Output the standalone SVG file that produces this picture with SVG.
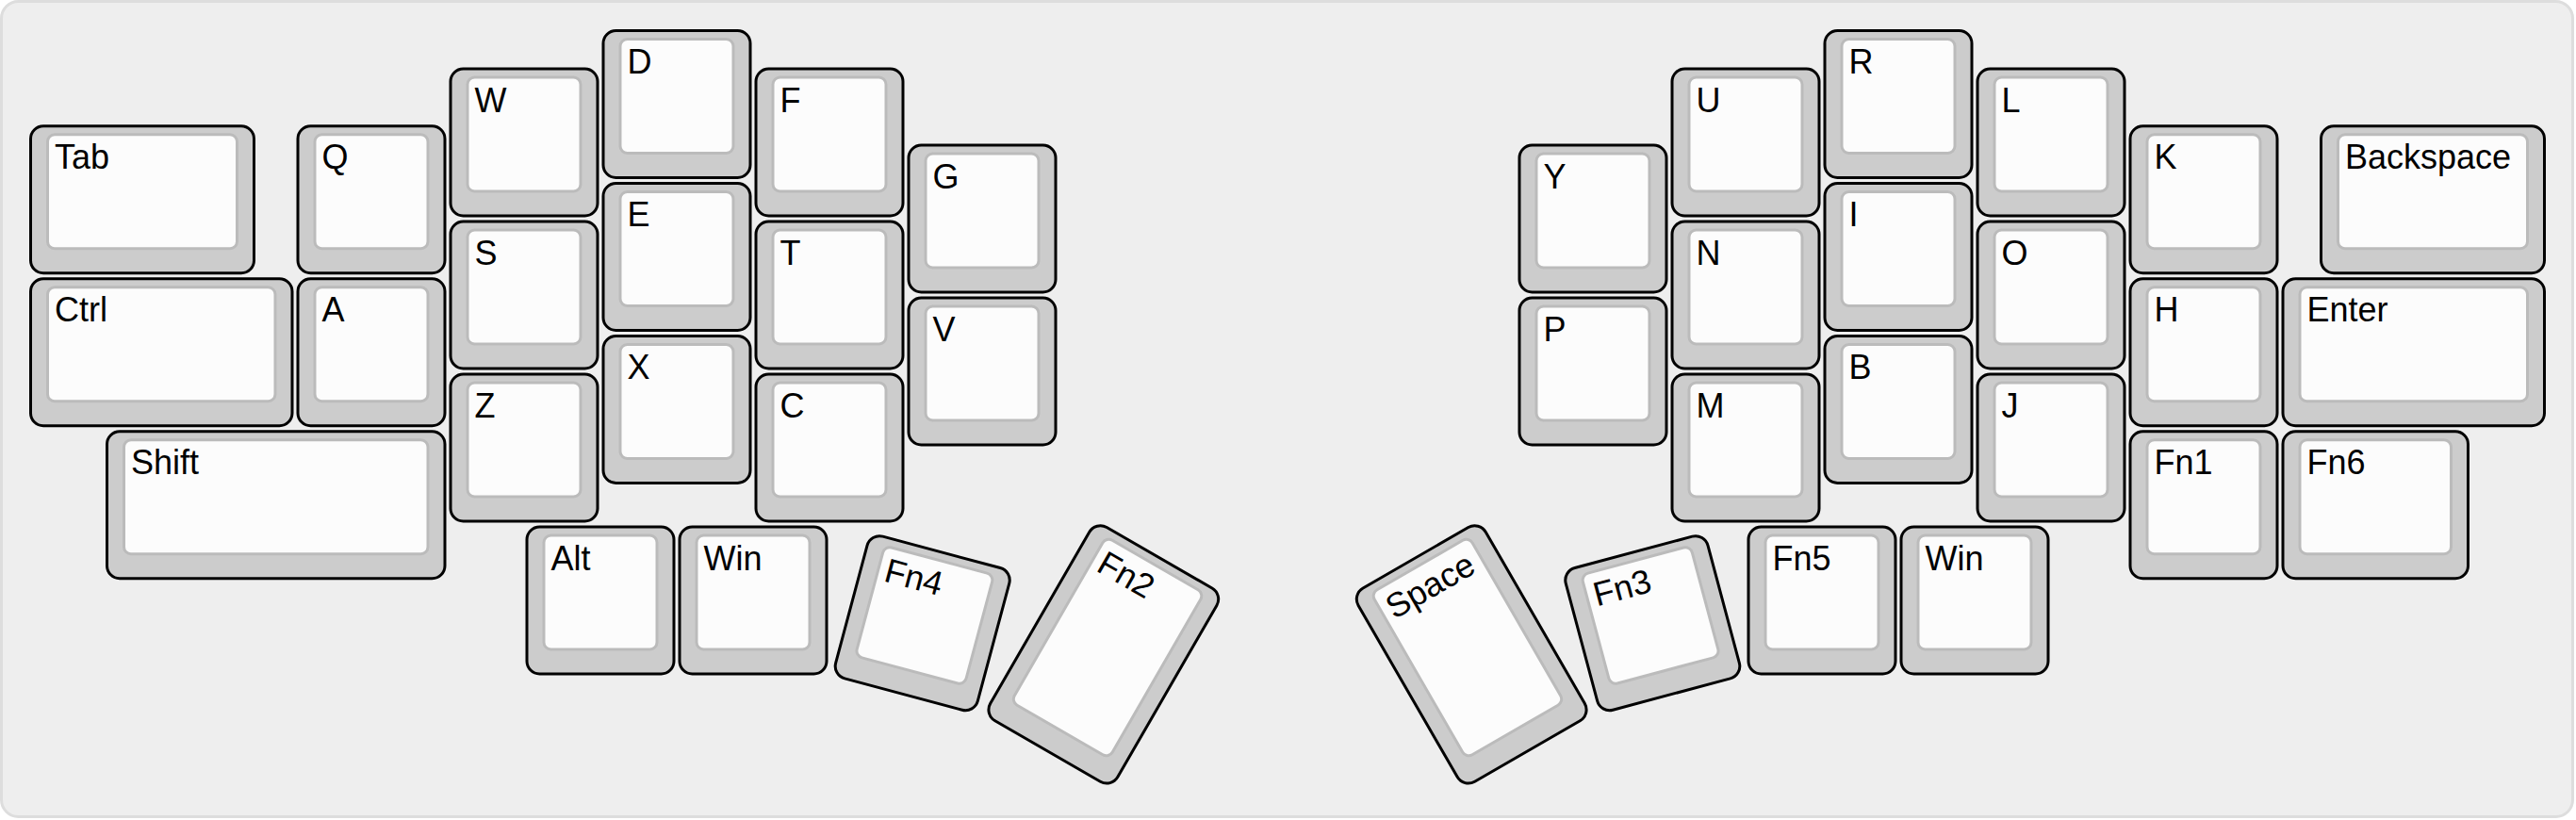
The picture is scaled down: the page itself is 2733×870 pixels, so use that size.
<svg xmlns="http://www.w3.org/2000/svg" xmlns:xlink="http://www.w3.org/1999/xlink" width="2733" height="870" viewBox="0 0 2733 870">
  <style>
    .outer { fill: #cccccc; stroke: #000000; stroke-width: 3; }
    .inner { fill: #fcfcfc; stroke: #bbbbbb; stroke-width: 3; }
    .lbl { font-family: "Liberation Sans", Arial, sans-serif; font-size: 36px; fill: #000000; }
  </style>
  <defs>
    <g id="cap100">
      <rect class="outer" x="1.5" y="1.5" width="156" height="156" rx="13.5"/>
      <rect class="inner" x="19.5" y="10.5" width="120" height="121" rx="7.5"/>
    </g>
    <g id="cap125">
      <rect class="outer" x="1.5" y="1.5" width="196.5" height="156" rx="13.5"/>
      <rect class="inner" x="19.5" y="10.5" width="160.5" height="121" rx="7.5"/>
    </g>
    <g id="cap150">
      <rect class="outer" x="1.5" y="1.5" width="237" height="156" rx="13.5"/>
      <rect class="inner" x="19.5" y="10.5" width="201" height="121" rx="7.5"/>
    </g>
    <g id="cap175">
      <rect class="outer" x="1.5" y="1.5" width="277.5" height="156" rx="13.5"/>
      <rect class="inner" x="19.5" y="10.5" width="241.5" height="121" rx="7.5"/>
    </g>
    <g id="cap225">
      <rect class="outer" x="1.5" y="1.5" width="358.5" height="156" rx="13.5"/>
      <rect class="inner" x="19.5" y="10.5" width="322.5" height="121" rx="7.5"/>
    </g>
    <g id="cap100x150">
      <rect class="outer" x="1.5" y="1.5" width="156" height="237" rx="13.5"/>
      <rect class="inner" x="19.5" y="10.5" width="120" height="202" rx="7.5"/>
    </g>
  </defs>

  <rect id="frame" x="1.5" y="1.5" width="2728" height="865" rx="18" fill="#eeeeee" stroke="#dddddd" stroke-width="3"/>

  <g id="connectors"/>

  <!-- Left half -->
  <g id="key-tab" transform="translate(31,132.25)"><use href="#cap150"/><text class="lbl" x="27" y="47">Tab</text></g>
  <g id="key-q" transform="translate(314.5,132.25)"><use href="#cap100"/><text class="lbl" x="27" y="47">Q</text></g>
  <g id="key-w" transform="translate(476.5,71.5)"><use href="#cap100"/><text class="lbl" x="27" y="47">W</text></g>
  <g id="key-d" transform="translate(638.5,31)"><use href="#cap100"/><text class="lbl" x="27" y="47">D</text></g>
  <g id="key-f" transform="translate(800.5,71.5)"><use href="#cap100"/><text class="lbl" x="27" y="47">F</text></g>
  <g id="key-g" transform="translate(962.5,152.5)"><use href="#cap100"/><text class="lbl" x="27" y="47">G</text></g>

  <g id="key-ctrl" transform="translate(31,294.25)"><use href="#cap175"/><text class="lbl" x="27" y="47">Ctrl</text></g>
  <g id="key-a" transform="translate(314.5,294.25)"><use href="#cap100"/><text class="lbl" x="27" y="47">A</text></g>
  <g id="key-s" transform="translate(476.5,233.5)"><use href="#cap100"/><text class="lbl" x="27" y="47">S</text></g>
  <g id="key-e" transform="translate(638.5,193)"><use href="#cap100"/><text class="lbl" x="27" y="47">E</text></g>
  <g id="key-t" transform="translate(800.5,233.5)"><use href="#cap100"/><text class="lbl" x="27" y="47">T</text></g>
  <g id="key-v" transform="translate(962.5,314.5)"><use href="#cap100"/><text class="lbl" x="27" y="47">V</text></g>

  <g id="key-shift" transform="translate(112,456.25)"><use href="#cap225"/><text class="lbl" x="27" y="47">Shift</text></g>
  <g id="key-z" transform="translate(476.5,395.5)"><use href="#cap100"/><text class="lbl" x="27" y="47">Z</text></g>
  <g id="key-x" transform="translate(638.5,355)"><use href="#cap100"/><text class="lbl" x="27" y="47">X</text></g>
  <g id="key-c" transform="translate(800.5,395.5)"><use href="#cap100"/><text class="lbl" x="27" y="47">C</text></g>

  <g id="key-alt" transform="translate(557.5,557.5)"><use href="#cap100"/><text class="lbl" x="27" y="47">Alt</text></g>
  <g id="key-win-left" transform="translate(719.5,557.5)"><use href="#cap100"/><text class="lbl" x="27" y="47">Win</text></g>
  <g id="key-fn4" transform="translate(978.7,661.2) rotate(15) translate(-79.5,-79.5)"><use href="#cap100"/><text class="lbl" x="27" y="47">Fn4</text></g>
  <g id="key-fn2" transform="translate(1170.8,694.4) rotate(30) translate(-79.5,-120)"><use href="#cap100x150"/><text class="lbl" x="27" y="47">Fn2</text></g>

  <!-- Right half -->
  <g id="key-y" transform="translate(1610.5,152.5)"><use href="#cap100"/><text class="lbl" x="27" y="47">Y</text></g>
  <g id="key-u" transform="translate(1772.5,71.5)"><use href="#cap100"/><text class="lbl" x="27" y="47">U</text></g>
  <g id="key-r" transform="translate(1934.5,31)"><use href="#cap100"/><text class="lbl" x="27" y="47">R</text></g>
  <g id="key-l" transform="translate(2096.5,71.5)"><use href="#cap100"/><text class="lbl" x="27" y="47">L</text></g>
  <g id="key-k" transform="translate(2258.5,132.25)"><use href="#cap100"/><text class="lbl" x="27" y="47">K</text></g>
  <g id="key-backspace" transform="translate(2461,132.25)"><use href="#cap150"/><text class="lbl" x="27" y="47">Backspace</text></g>

  <g id="key-p" transform="translate(1610.5,314.5)"><use href="#cap100"/><text class="lbl" x="27" y="47">P</text></g>
  <g id="key-n" transform="translate(1772.5,233.5)"><use href="#cap100"/><text class="lbl" x="27" y="47">N</text></g>
  <g id="key-i" transform="translate(1934.5,193)"><use href="#cap100"/><text class="lbl" x="27" y="47">I</text></g>
  <g id="key-o" transform="translate(2096.5,233.5)"><use href="#cap100"/><text class="lbl" x="27" y="47">O</text></g>
  <g id="key-h" transform="translate(2258.5,294.25)"><use href="#cap100"/><text class="lbl" x="27" y="47">H</text></g>
  <g id="key-enter" transform="translate(2420.5,294.25)"><use href="#cap175"/><text class="lbl" x="27" y="47">Enter</text></g>

  <g id="key-m" transform="translate(1772.5,395.5)"><use href="#cap100"/><text class="lbl" x="27" y="47">M</text></g>
  <g id="key-b" transform="translate(1934.5,355)"><use href="#cap100"/><text class="lbl" x="27" y="47">B</text></g>
  <g id="key-j" transform="translate(2096.5,395.5)"><use href="#cap100"/><text class="lbl" x="27" y="47">J</text></g>
  <g id="key-fn1" transform="translate(2258.5,456.25)"><use href="#cap100"/><text class="lbl" x="27" y="47">Fn1</text></g>
  <g id="key-fn6" transform="translate(2420.5,456.25)"><use href="#cap125"/><text class="lbl" x="27" y="47">Fn6</text></g>

  <g id="key-space" transform="translate(1561.2,694.4) rotate(-30) translate(-79.5,-120)"><use href="#cap100x150"/><text class="lbl" x="27" y="47">Space</text></g>
  <g id="key-fn3" transform="translate(1753.3,661.2) rotate(-15) translate(-79.5,-79.5)"><use href="#cap100"/><text class="lbl" x="27" y="47">Fn3</text></g>
  <g id="key-fn5" transform="translate(1853.5,557.5)"><use href="#cap100"/><text class="lbl" x="27" y="47">Fn5</text></g>
  <g id="key-win-right" transform="translate(2015.5,557.5)"><use href="#cap100"/><text class="lbl" x="27" y="47">Win</text></g>
</svg>
